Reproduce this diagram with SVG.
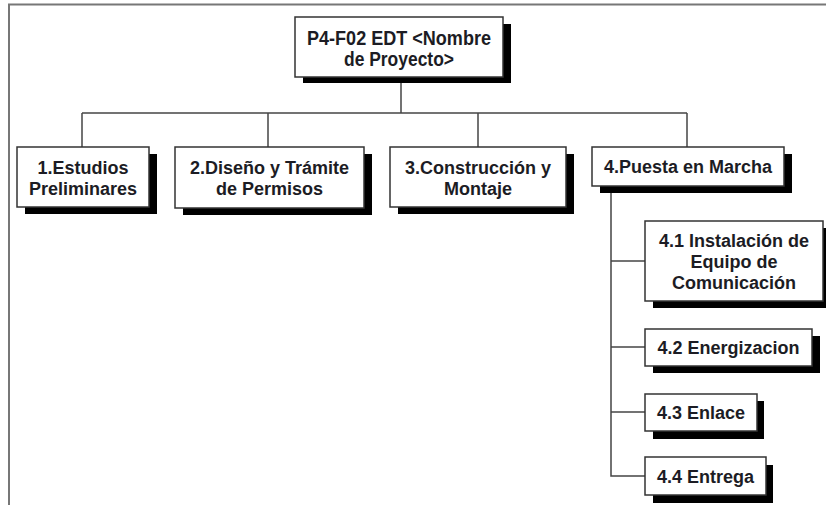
<svg xmlns="http://www.w3.org/2000/svg" width="826" height="505" viewBox="0 0 826 505">
  <style>
    .shadow { fill: #000; }
    .box { fill: #fff; stroke: #333; stroke-width: 1.5; }
    .label { font-family: "Liberation Sans", Arial, sans-serif; font-weight: bold; font-size: 18px; fill: #1c1c24; text-anchor: middle; }
    .root { font-size: 20px; }
    .conn { fill: none; stroke: #444; stroke-width: 1.5; }
    .frame { fill: none; stroke: #777; stroke-width: 2; }
  </style>

  <!-- page frame -->
  <path class="frame" d="M9,505 V4.5 H826"/>

  <!-- connectors -->
  <g id="connectors">
    <path class="conn" d="M401,83 V113"/>
    <path class="conn" d="M82,113 H687"/>
    <path class="conn" d="M82,113 V147"/>
    <path class="conn" d="M268,113 V147"/>
    <path class="conn" d="M478,113 V147"/>
    <path class="conn" d="M687,113 V147"/>
    <path class="conn" d="M611,193 V476 H645"/>
    <path class="conn" d="M611,261 H645"/>
    <path class="conn" d="M611,347 H645"/>
    <path class="conn" d="M611,412 H645"/>
  </g>

  <!-- root -->
  <g id="root">
    <rect class="shadow" x="303" y="24" width="208" height="59"/>
    <rect class="box" x="295" y="17" width="208" height="60"/>
    <text class="label root" x="399" y="45" textLength="184" lengthAdjust="spacingAndGlyphs">P4-F02 EDT &lt;Nombre</text>
    <text class="label root" x="399" y="66" textLength="110" lengthAdjust="spacingAndGlyphs">de Proyecto&gt;</text>
  </g>

  <!-- level 1 -->
  <g id="n1">
    <rect class="shadow" x="25" y="154" width="132" height="60"/>
    <rect class="box" x="17" y="147" width="132" height="60"/>
    <text class="label" x="83" y="174">1.Estudios</text>
    <text class="label" x="83" y="195">Preliminares</text>
  </g>

  <g id="n2">
    <rect class="shadow" x="183" y="154" width="189" height="61"/>
    <rect class="box" x="175" y="147" width="189" height="61"/>
    <text class="label" x="269.5" y="174">2.Diseño y Trámite</text>
    <text class="label" x="269.5" y="195">de Permisos</text>
  </g>

  <g id="n3">
    <rect class="shadow" x="398" y="154" width="176" height="60"/>
    <rect class="box" x="390" y="147" width="176" height="60"/>
    <text class="label" x="478" y="174">3.Construcción y</text>
    <text class="label" x="478" y="195">Montaje</text>
  </g>

  <g id="n4">
    <rect class="shadow" x="600" y="154" width="192" height="39"/>
    <rect class="box" x="592" y="147" width="192" height="39"/>
    <text class="label" x="688" y="173">4.Puesta en Marcha</text>
  </g>

  <!-- level 2 under 4 -->
  <g id="n4-1">
    <rect class="shadow" x="653" y="228" width="178" height="80"/>
    <rect class="box" x="645" y="221" width="178" height="80"/>
    <text class="label" x="734" y="247">4.1 Instalación de</text>
    <text class="label" x="734" y="268">Equipo de</text>
    <text class="label" x="734" y="289">Comunicación</text>
  </g>

  <g id="n4-2">
    <rect class="shadow" x="653" y="336" width="167" height="37"/>
    <rect class="box" x="645" y="329" width="167" height="37"/>
    <text class="label" x="728.5" y="354">4.2 Energizacion</text>
  </g>

  <g id="n4-3">
    <rect class="shadow" x="653" y="401" width="111" height="38"/>
    <rect class="box" x="645" y="394" width="112" height="37"/>
    <text class="label" x="701" y="419">4.3 Enlace</text>
  </g>

  <g id="n4-4">
    <rect class="shadow" x="653" y="465" width="120" height="38"/>
    <rect class="box" x="645" y="457" width="121" height="38"/>
    <text class="label" x="705.5" y="483">4.4 Entrega</text>
  </g>
</svg>
